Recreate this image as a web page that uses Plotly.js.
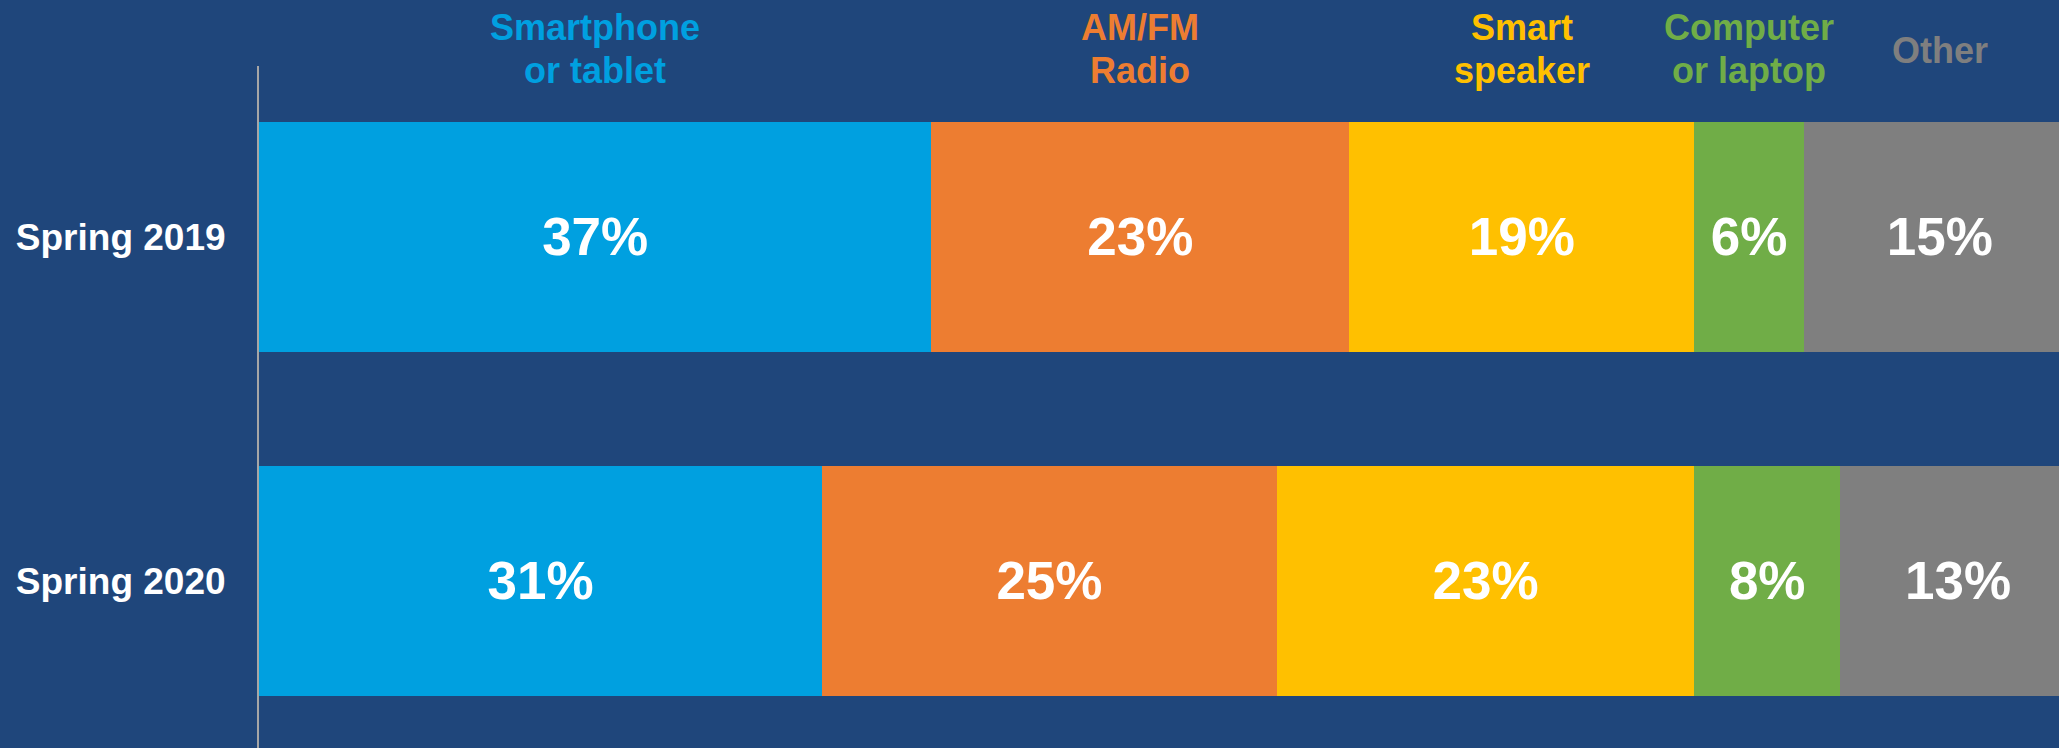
<!DOCTYPE html>
<html>
<head>
<meta charset="utf-8">
<script src="https://cdn.plot.ly/plotly-3.0.1.min.js"></script>
<style>
  html, body { margin: 0; padding: 0; background: #1F467B; }
  #chart { width: 2059px; height: 748px; }
</style>
</head>
<body>
<div id="chart"></div>
<script>
// ---- Data ----
const categories = ['Spring 2019', 'Spring 2020'];
const seriesNames = ['Smartphone<br>or tablet', 'AM/FM<br>Radio', 'Smart<br>speaker', 'Computer<br>or laptop', 'Other'];
const smartphone = [37, 31];
const amfmRadio = [23, 25];
const smartSpeaker = [19, 23];
const computer = [6, 8];
const other = [15, 13];

// ---- Styling ----
const colors = ['#00A0E0', '#ED7D31', '#FFC000', '#70AD47', '#7F7F7F'];
const FONT = '"Liberation Sans", Arial, Helvetica, sans-serif';
const allSeries = [smartphone, amfmRadio, smartSpeaker, computer, other];

const traces = allSeries.map((vals, i) => ({
  type: 'bar',
  orientation: 'h',
  name: seriesNames[i],
  y: categories,
  x: vals,
  marker: { color: colors[i], line: { width: 0 } },
  texttemplate: '%{x}%',
  textposition: 'inside',
  insidetextanchor: 'middle',
  textangle: 0,
  constraintext: 'none',
  textfont: { family: FONT, size: 53, color: '#FFFFFF', weight: 'bold' },
  hoverinfo: 'skip'
}));

// header labels centred over the Spring 2019 segments, one annotation per line
const plotTop = 66, plotH = 682;
const pyToPaper = p => 1 + (plotTop - p) / plotH;
const annotations = [];
let cum = 0;
allSeries.forEach((vals, i) => {
  const center = cum + vals[0] / 2;
  cum += vals[0];
  const lines = seriesNames[i].split('<br>');
  const ys = lines.length === 2 ? [27, 70] : [50];
  lines.forEach((ln, k) => {
    annotations.push({
      xref: 'x', yref: 'paper',
      x: center, y: pyToPaper(ys[k]),
      xanchor: 'center', yanchor: 'middle',
      text: ln,
      showarrow: false,
      align: 'center',
      font: { family: FONT, size: 36, color: colors[i], weight: 'bold' }
    });
  });
});

const layout = {
  width: 2059,
  height: 748,
  margin: { l: 259, r: 0, t: 66, b: 0, pad: 0 },
  paper_bgcolor: '#1F467B',
  plot_bgcolor: '#1F467B',
  barmode: 'stack',
  bargap: 0.331,
  showlegend: false,
  xaxis: {
    range: [0, 99.06],
    showgrid: false, zeroline: false, showline: false,
    showticklabels: false, ticks: '', fixedrange: true
  },
  yaxis: {
    type: 'category',
    categoryorder: 'array',
    categoryarray: categories,
    range: [1.4855, -0.497],
    showgrid: false, zeroline: false,
    showline: true, linecolor: '#A6A6A6', linewidth: 2,
    ticks: '', ticklabelstandoff: 24,
    tickfont: { family: FONT, size: 37, color: '#FFFFFF', weight: 'bold' },
    fixedrange: true
  },
  annotations: annotations,
  font: { family: FONT }
};

Plotly.newPlot('chart', traces, layout, { staticPlot: true, displayModeBar: false });
</script>
</body>
</html>
